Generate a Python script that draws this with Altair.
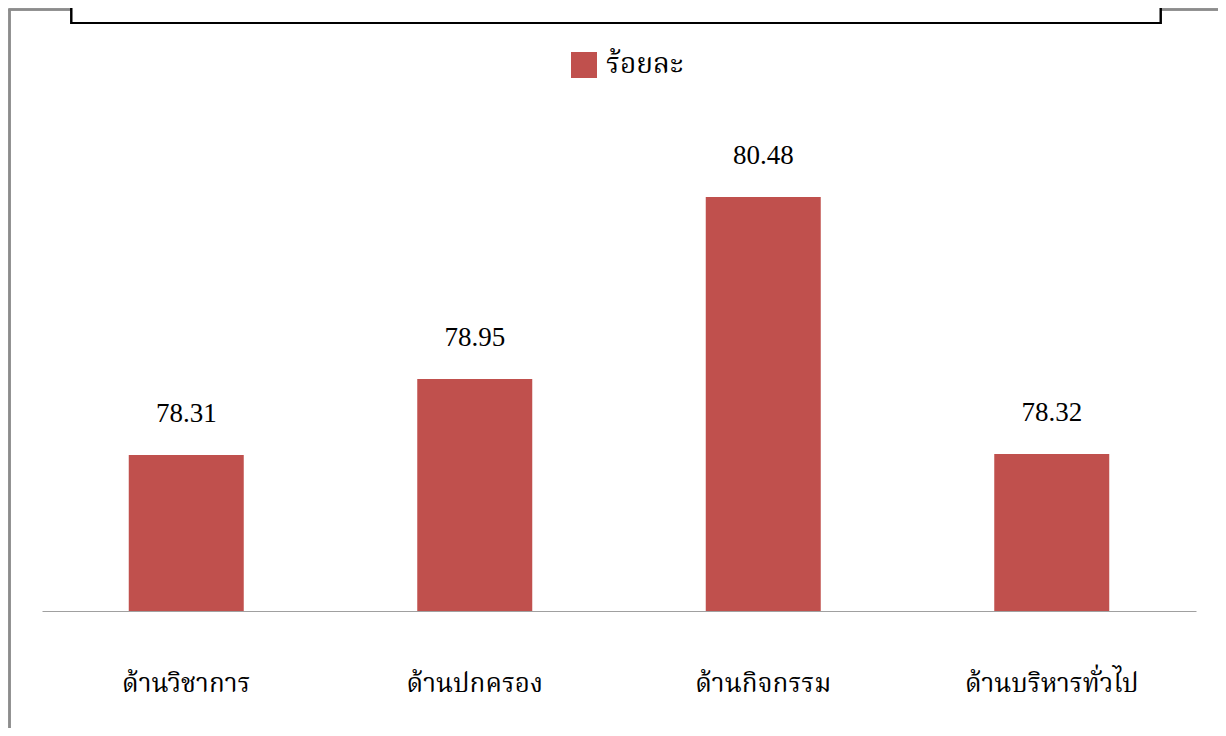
import altair as alt
import pandas as pd

categories = ["ด้านวิชาการ", "ด้านปกครอง", "ด้านกิจกรรม", "ด้านบริหารทั่วไป"]
values = [78.31, 78.95, 80.48, 78.32]
series_name = ["ร้อยละ"] * 4
value_labels = ["78.31", "78.95", "80.48", "78.32"]

df = pd.DataFrame({"cat": categories, "val": values, "series": series_name, "lab": value_labels})

W, H = 1154, 476
BAR = "#C0504D"
THAI = "Norasi, 'Angsana New', 'Noto Serif Thai', 'Liberation Serif', serif"

x_enc = alt.X("cat:N", sort=categories, title=None,
              scale=alt.Scale(paddingInner=0.6, paddingOuter=0.3),
              axis=alt.Axis(labelAngle=0, ticks=False, domainColor="#a0a0a0", domainWidth=1,
                            labelFontSize=26, labelFont=THAI, labelColor="#000000",
                            labelPadding=80, labelBaseline="alphabetic", labelLimit=0))
y_enc = alt.Y("val:Q", title=None, scale=alt.Scale(domain=[77, 81], zero=False, clamp=True), axis=None)

base = alt.Chart(df)

frame_v = base.mark_rule(color="#8c8c8c", strokeWidth=2).encode(
    x=alt.value(-32.5), y=alt.value(-125.5), y2=alt.value(H + 200))
frame_h = base.mark_rule(color="#8c8c8c", strokeWidth=2).encode(
    x=alt.value(-33.5), x2=alt.value(W + 60), y=alt.value(-125.5))
title_box = base.mark_rect(fill="white", stroke="black", strokeWidth=2).encode(
    x=alt.value(29.5), x2=alt.value(1118.5), y=alt.value(-170), y2=alt.value(-112))

bars = base.mark_bar(size=115).encode(
    x=x_enc, y=y_enc,
    color=alt.Color("series:N", title=None,
                    scale=alt.Scale(range=[BAR]),
                    legend=alt.Legend(orient="none", legendX=528, legendY=-84, padding=0,
                                      symbolType="square", symbolSize=676, symbolStrokeWidth=0,
                                      symbolOpacity=1,
                                      labelFontSize=28, labelFont=THAI,
                                      labelColor="#000000", labelOffset=8)))
labels = base.mark_text(dy=-33, baseline="alphabetic", fontSize=27, font="Liberation Serif",
                        color="#000000").encode(x=x_enc, y=y_enc, text="lab:N")

chart = alt.layer(frame_v, frame_h, title_box, bars, labels).properties(
    width=W, height=H,
    background="white",
    autosize=alt.AutoSizeParams(type="none"),
    padding={"left": 34, "top": 127, "right": 22, "bottom": 117},
).configure_view(stroke=None)

chart.save("out.html", embed_options={"renderer": "svg", "actions": False})
